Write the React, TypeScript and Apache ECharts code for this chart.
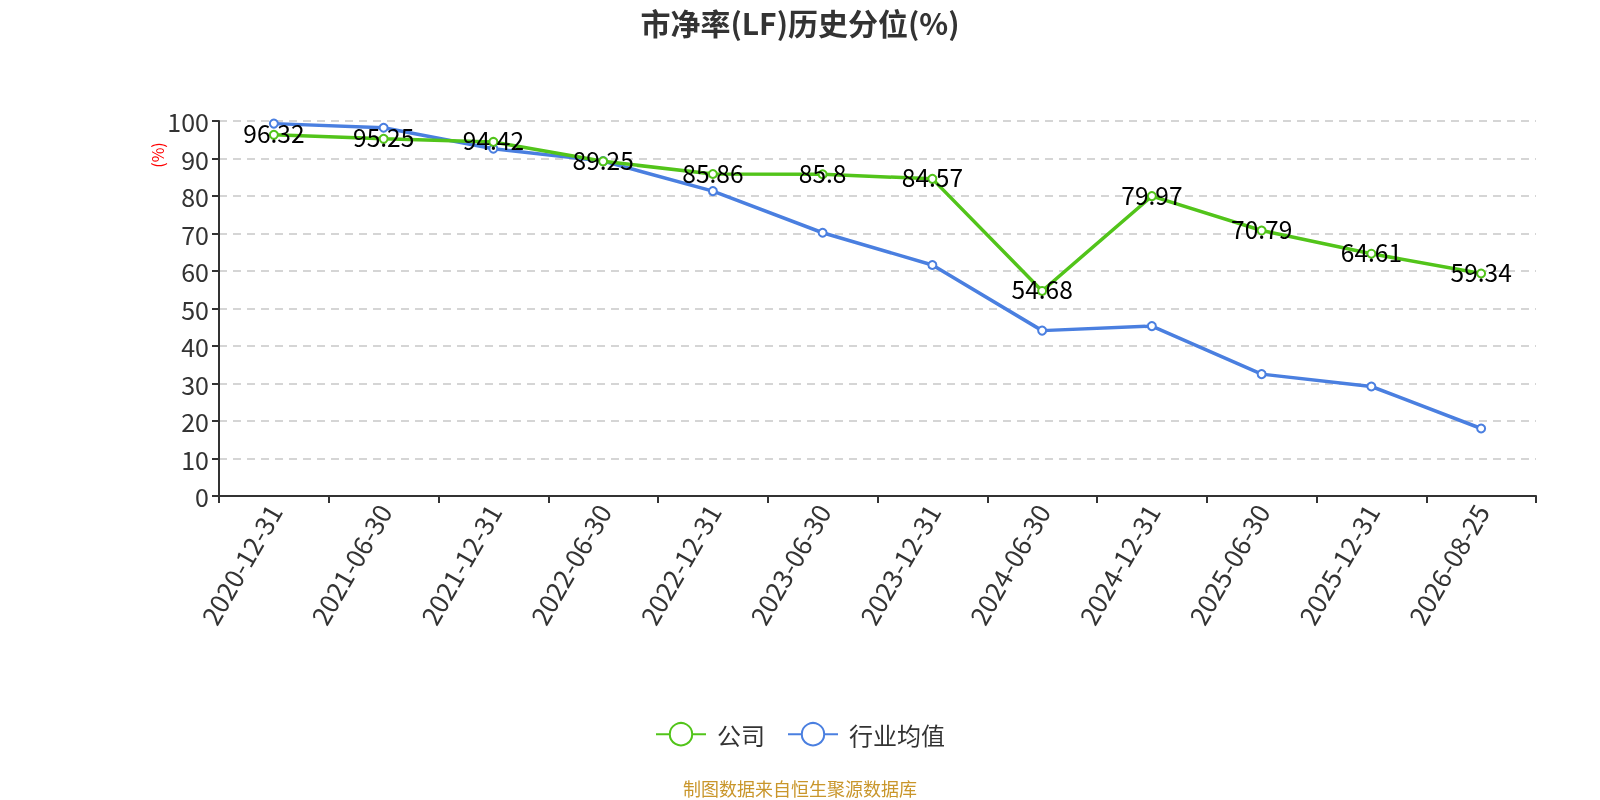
import React, { useEffect, useRef } from "react";
import * as echarts from "echarts";

const categories = [
  "2020-12-31", "2021-06-30", "2021-12-31", "2022-06-30", "2022-12-31", "2023-06-30",
  "2023-12-31", "2024-06-30", "2024-12-31", "2025-06-30", "2025-12-31", "2026-08-25",
];
const companyValues = [96.32, 95.25, 94.42, 89.25, 85.86, 85.8, 84.57, 54.68, 79.97, 70.79, 64.61, 59.34];
const industryValues = [99.3, 98.2, 92.6, 89.3, 81.3, 70.2, 61.6, 44.1, 45.3, 32.5, 29.2, 18.0];
const yTicks = { min: 0, max: 100, interval: 10 };

const FONT = '"Noto Sans CJK SC", "Noto Sans", sans-serif';

export default function App() {
  const ref = useRef<HTMLDivElement>(null);
  useEffect(() => {
    if (!ref.current) return;
    const chart = echarts.init(ref.current, null, { renderer: "svg" });
    chart.setOption({
      animation: false,
      textStyle: { fontFamily: FONT },
      title: {
        text: "市净率(LF)历史分位(%)",
        left: "center",
        top: 2,
        textStyle: { fontSize: 30, fontWeight: "bold", color: "#333", fontFamily: FONT },
      },
      grid: { left: 219, right: 64, top: 121, bottom: 304 },
      legend: {
        top: 717,
        left: "center",
        itemWidth: 50,
        itemHeight: 28,
        itemGap: 22,
        textStyle: { fontSize: 24, color: "#333", fontFamily: FONT, padding: [0, 0, 0, 6] },
        data: ["公司", "行业均值"],
      },
      graphic: [
        {
          type: "text",
          x: 157,
          y: 155,
          rotation: Math.PI / 2,
          style: {
            text: "(%)",
            fill: "#ff0000",
            fontSize: 16,
            fontFamily: FONT,
            align: "center",
            verticalAlign: "middle",
          },
        },
        {
          type: "text",
          left: "center",
          top: 779,
          style: { text: "制图数据来自恒生聚源数据库", fill: "#c9962b", fontSize: 18, fontFamily: FONT },
        },
      ],
      xAxis: {
        type: "category",
        data: categories,
        boundaryGap: true,
        axisLine: { lineStyle: { color: "#333", width: 2 } },
        axisTick: { show: true, length: 7, lineStyle: { color: "#333", width: 2 } },
        axisLabel: { rotate: 60, fontSize: 26, color: "#333", margin: 10, fontFamily: FONT },
      },
      yAxis: {
        type: "value",
        min: yTicks.min,
        max: yTicks.max,
        interval: yTicks.interval,
        axisLine: { show: true, lineStyle: { color: "#333", width: 2 } },
        axisTick: { show: true, length: 7, lineStyle: { color: "#333", width: 2 } },
        axisLabel: { fontSize: 25, color: "#333", margin: 10, fontFamily: FONT },
        splitLine: { show: true, lineStyle: { type: [8, 6], color: "#c8c8c8", width: 1.5 } },
      },
      series: [
        {
          name: "公司",
          type: "line",
          data: companyValues,
          symbol: "emptyCircle",
          symbolSize: 8,
          color: "#52c41a",
          lineStyle: { width: 3.5, color: "#52c41a" },
          itemStyle: { color: "#52c41a", borderWidth: 2 },
          label: {
            show: true,
            position: "inside",
            offset: [0, -2],
            fontSize: 24.5,
            color: "#000",
            fontFamily: FONT,
          },
          z: 3,
        },
        {
          name: "行业均值",
          type: "line",
          data: industryValues,
          symbol: "emptyCircle",
          symbolSize: 8,
          color: "#4a7fe0",
          lineStyle: { width: 3.5, color: "#4a7fe0" },
          itemStyle: { color: "#4a7fe0", borderWidth: 2 },
          label: { show: false },
          z: 2,
        },
      ],
    });
    return () => chart.dispose();
  }, []);
  return (
    <div
      ref={ref}
      style={{ position: "fixed", left: 0, top: 0, width: 1600, height: 800 }}
    />
  );
}
